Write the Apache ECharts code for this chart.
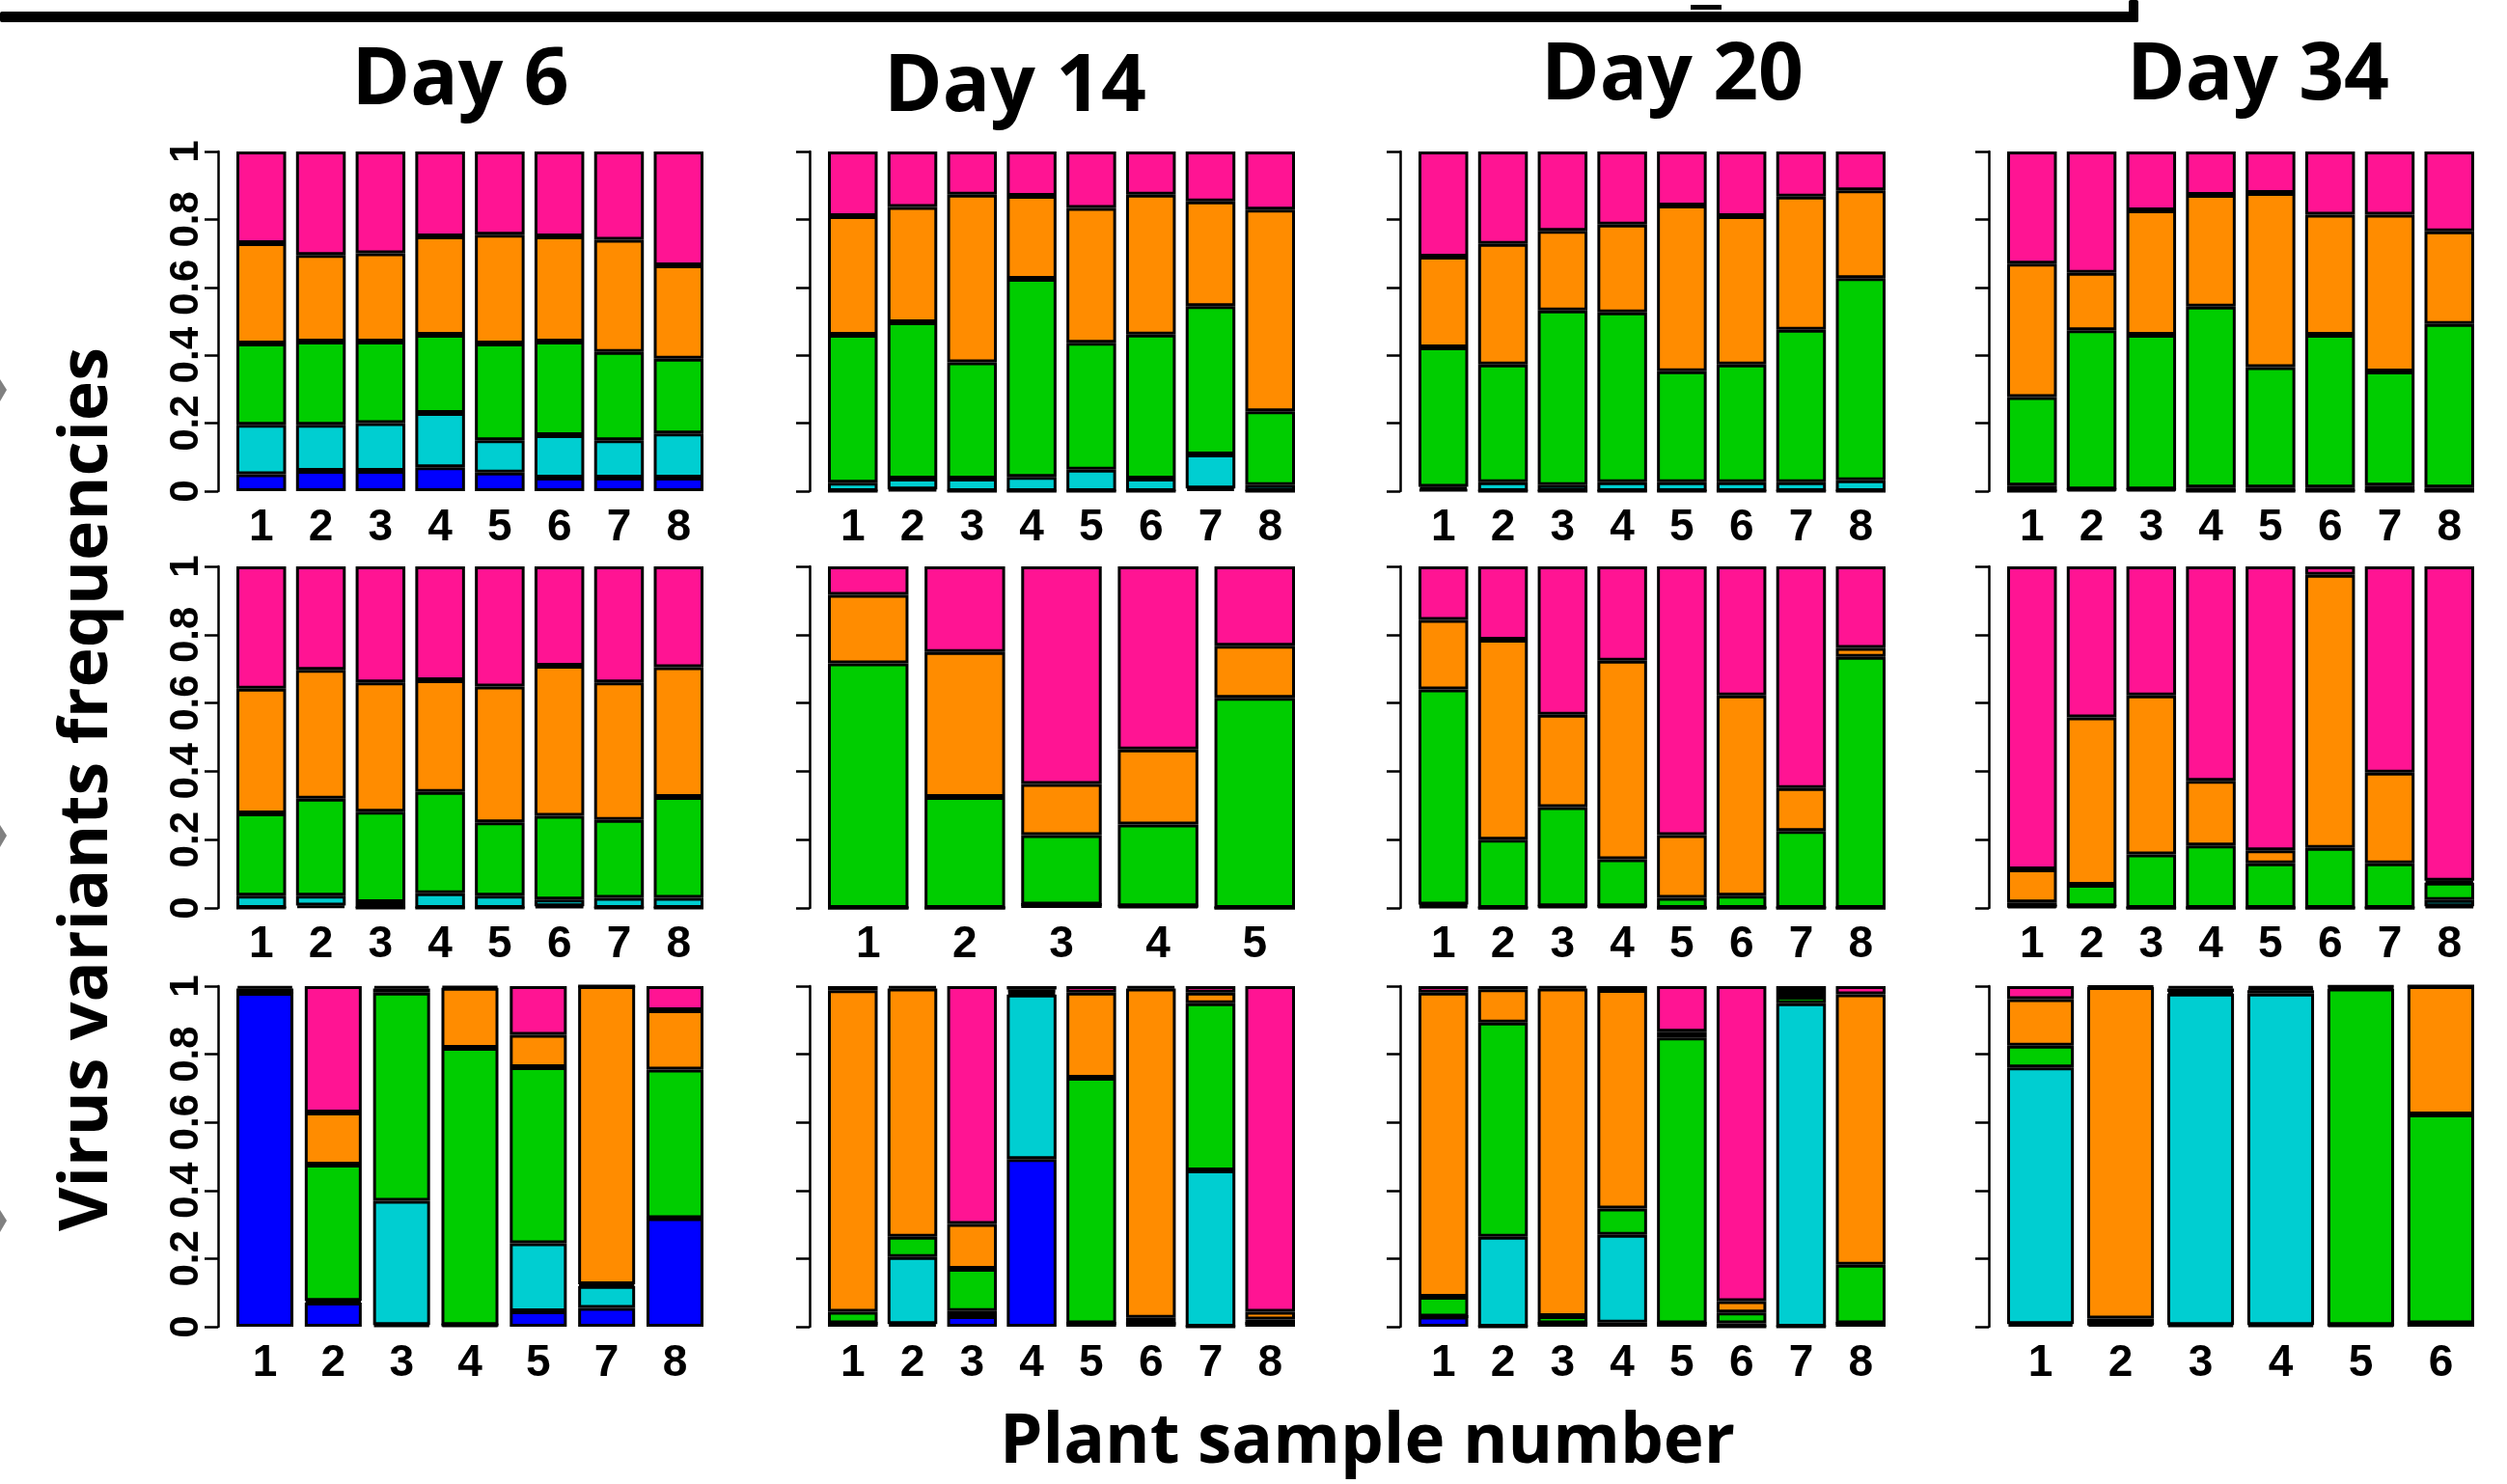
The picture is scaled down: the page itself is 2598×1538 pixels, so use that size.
<!DOCTYPE html>
<html><head><meta charset="utf-8">
<script src="https://cdn.jsdelivr.net/npm/echarts@6/dist/echarts.min.js"></script>
<style>html,body{margin:0;padding:0;background:#fff}#c{width:2598px;height:1538px}</style>
</head><body><div id="c"></div>
<script>
// ---------- categories / ticks ----------
const dayTitles = ['Day 6', 'Day 14', 'Day 20', 'Day 34'];
const variantNames = ['blue', 'cyan', 'green', 'orange', 'pink'];
const variantColors = ['#0000FF', '#00CED1', '#00CD00', '#FF8C00', '#FF1493'];
const yTicks = [0, 0.2, 0.4, 0.6, 0.8, 1];
const cats8 = ['1', '2', '3', '4', '5', '6', '7', '8'];
const cats5 = ['1', '2', '3', '4', '5'];
const cats7 = ['1', '2', '3', '4', '5', '7', '8'];
const cats6 = ['1', '2', '3', '4', '5', '6'];

// ---------- row 1 ----------
const r1d6_blue   = [0.05, 0.06, 0.06, 0.07, 0.055, 0.04, 0.04, 0.04];
const r1d6_cyan   = [0.145, 0.135, 0.14, 0.16, 0.095, 0.125, 0.11, 0.13];
const r1d6_green  = [0.24, 0.245, 0.24, 0.23, 0.285, 0.275, 0.26, 0.22];
const r1d6_orange = [0.295, 0.255, 0.26, 0.29, 0.32, 0.31, 0.33, 0.275];
const r1d6_pink   = [0.27, 0.305, 0.30, 0.25, 0.245, 0.25, 0.26, 0.335];

const r1d14_blue   = [0, 0.005, 0, 0, 0, 0, 0.008, 0];
const r1d14_cyan   = [0.025, 0.032, 0.037, 0.042, 0.063, 0.037, 0.1, 0.018];
const r1d14_green  = [0.435, 0.46, 0.342, 0.583, 0.374, 0.424, 0.437, 0.217];
const r1d14_orange = [0.35, 0.34, 0.494, 0.244, 0.397, 0.412, 0.308, 0.594];
const r1d14_pink   = [0.19, 0.163, 0.127, 0.131, 0.166, 0.127, 0.147, 0.171];

const r1d20_blue   = [0.005, 0, 0, 0, 0, 0, 0, 0];
const r1d20_cyan   = [0.008, 0.026, 0.018, 0.026, 0.026, 0.026, 0.026, 0.032];
const r1d20_green  = [0.41, 0.347, 0.514, 0.5, 0.327, 0.347, 0.449, 0.595];
const r1d20_orange = [0.267, 0.355, 0.234, 0.259, 0.488, 0.437, 0.392, 0.259];
const r1d20_pink   = [0.31, 0.272, 0.234, 0.215, 0.159, 0.19, 0.133, 0.114];

const r1d34_blue   = [0, 0.005, 0.005, 0, 0, 0, 0, 0];
const r1d34_cyan   = [0.016, 0, 0, 0.011, 0.011, 0.011, 0.016, 0.011];
const r1d34_green  = [0.261, 0.469, 0.455, 0.532, 0.354, 0.449, 0.336, 0.481];
const r1d34_orange = [0.393, 0.169, 0.367, 0.329, 0.513, 0.354, 0.462, 0.273];
const r1d34_pink   = [0.33, 0.357, 0.173, 0.128, 0.122, 0.186, 0.186, 0.235];

// ---------- row 2 ----------
const r2d6_blue   = [0, 0.007, 0, 0, 0, 0.005, 0, 0];
const r2d6_cyan   = [0.036, 0.029, 0.017, 0.043, 0.036, 0.02, 0.03, 0.03];
const r2d6_green  = [0.241, 0.284, 0.265, 0.297, 0.215, 0.245, 0.228, 0.295];
const r2d6_orange = [0.365, 0.377, 0.378, 0.327, 0.397, 0.439, 0.402, 0.38];
const r2d6_pink   = [0.358, 0.303, 0.34, 0.333, 0.352, 0.291, 0.34, 0.295];

const r2d14_blue   = [0, 0, 0.01, 0.005, 0];
const r2d14_cyan   = [0, 0, 0, 0, 0];
const r2d14_green  = [0.716, 0.325, 0.203, 0.239, 0.615];
const r2d14_orange = [0.201, 0.424, 0.15, 0.22, 0.153];
const r2d14_pink   = [0.083, 0.251, 0.637, 0.536, 0.232];

const r2d20_blue   = [0.005, 0, 0.005, 0.005, 0, 0, 0, 0];
const r2d20_cyan   = [0.005, 0, 0, 0, 0, 0, 0, 0];
const r2d20_green  = [0.63, 0.2, 0.29, 0.138, 0.03, 0.036, 0.225, 0.735];
const r2d20_orange = [0.203, 0.585, 0.271, 0.581, 0.183, 0.586, 0.126, 0.026];
const r2d20_pink   = [0.157, 0.215, 0.434, 0.276, 0.787, 0.378, 0.649, 0.239];

const r2d34_blue   = [0.005, 0.005, 0, 0, 0, 0, 0, 0.005];
const r2d34_cyan   = [0, 0, 0, 0, 0, 0, 0, 0.018];
const r2d34_green  = [0.011, 0.063, 0.157, 0.183, 0.131, 0.176, 0.131, 0.051];
const r2d34_orange = [0.097, 0.49, 0.465, 0.189, 0.038, 0.799, 0.265, 0.006];
const r2d34_pink   = [0.887, 0.442, 0.378, 0.628, 0.831, 0.025, 0.604, 0.92];

// ---------- row 3 ----------
const r3d6_blue   = [0.98, 0.071, 0.005, 0.005, 0.045, 0.055, 0.319];
const r3d6_cyan   = [0, 0.005, 0.365, 0, 0.2, 0.065, 0];
const r3d6_green  = [0, 0.4, 0.611, 0.814, 0.517, 0.005, 0.436];
const r3d6_orange = [0.013, 0.153, 0.012, 0.176, 0.095, 0.875, 0.174];
const r3d6_pink   = [0.007, 0.371, 0.007, 0.005, 0.143, 0, 0.071];

const r3d14_blue   = [0.01, 0.008, 0.031, 0.492, 0.01, 0.009, 0, 0.01];
const r3d14_cyan   = [0, 0.197, 0.015, 0.483, 0, 0, 0.459, 0];
const r3d14_green  = [0.034, 0.059, 0.124, 0.008, 0.721, 0.017, 0.491, 0.011];
const r3d14_orange = [0.944, 0.729, 0.132, 0.007, 0.25, 0.967, 0.031, 0.023];
const r3d14_pink   = [0.012, 0.007, 0.698, 0.01, 0.019, 0.007, 0.019, 0.956];

const r3d20_blue   = [0.03, 0, 0.01, 0.012, 0.01, 0, 0, 0.01];
const r3d20_cyan   = [0, 0.264, 0, 0.258, 0, 0.01, 0.95, 0];
const r3d20_green  = [0.058, 0.629, 0.021, 0.077, 0.839, 0.032, 0.019, 0.172];
const r3d20_orange = [0.893, 0.098, 0.962, 0.642, 0.017, 0.033, 0.017, 0.794];
const r3d20_pink   = [0.019, 0.009, 0.007, 0.011, 0.134, 0.925, 0.014, 0.024];

const r3d34_blue   = [0.008, 0.008, 0.005, 0.005, 0.005, 0.01];
const r3d34_cyan   = [0.753, 0, 0.973, 0.973, 0, 0];
const r3d34_green  = [0.064, 0.016, 0.005, 0.01, 0.988, 0.613];
const r3d34_orange = [0.137, 0.973, 0.01, 0.005, 0.005, 0.377];
const r3d34_pink   = [0.038, 0.003, 0.007, 0.007, 0.002, 0];

// ---------- panel table (built from the arrays above) ----------
const panels = [
  {row: 0, col: 0, cats: cats8, vals: [r1d6_blue, r1d6_cyan, r1d6_green, r1d6_orange, r1d6_pink]},
  {row: 0, col: 1, cats: cats8, vals: [r1d14_blue, r1d14_cyan, r1d14_green, r1d14_orange, r1d14_pink]},
  {row: 0, col: 2, cats: cats8, vals: [r1d20_blue, r1d20_cyan, r1d20_green, r1d20_orange, r1d20_pink]},
  {row: 0, col: 3, cats: cats8, vals: [r1d34_blue, r1d34_cyan, r1d34_green, r1d34_orange, r1d34_pink]},
  {row: 1, col: 0, cats: cats8, vals: [r2d6_blue, r2d6_cyan, r2d6_green, r2d6_orange, r2d6_pink]},
  {row: 1, col: 1, cats: cats5, vals: [r2d14_blue, r2d14_cyan, r2d14_green, r2d14_orange, r2d14_pink]},
  {row: 1, col: 2, cats: cats8, vals: [r2d20_blue, r2d20_cyan, r2d20_green, r2d20_orange, r2d20_pink]},
  {row: 1, col: 3, cats: cats8, vals: [r2d34_blue, r2d34_cyan, r2d34_green, r2d34_orange, r2d34_pink]},
  {row: 2, col: 0, cats: cats7, vals: [r3d6_blue, r3d6_cyan, r3d6_green, r3d6_orange, r3d6_pink]},
  {row: 2, col: 1, cats: cats8, vals: [r3d14_blue, r3d14_cyan, r3d14_green, r3d14_orange, r3d14_pink]},
  {row: 2, col: 2, cats: cats8, vals: [r3d20_blue, r3d20_cyan, r3d20_green, r3d20_orange, r3d20_pink]},
  {row: 2, col: 3, cats: cats6, vals: [r3d34_blue, r3d34_cyan, r3d34_green, r3d34_orange, r3d34_pink]}
];

// ---------- layout ----------
const colBarsLeft = [245, 858, 1470, 2080];
const barsSpan = 484;
const axisGap = 19;
const rowTop = [157, 587, 1022];
const rowH = [352, 354, 353];
const colTitleX = [477, 1052, 1733, 2340];
const colTitleY = [85, 92, 80, 80];
const tickFont = '"Liberation Sans", Arial, sans-serif';

const grids = [], xAxes = [], yAxes = [], series = [];
panels.forEach((p, i) => {
  const n = p.cats.length;
  const u = barsSpan / (1.2 * n - 0.2);
  const left = colBarsLeft[p.col] - 0.1 * u;
  grids.push({left: left, top: rowTop[p.row], width: 1.2 * n * u, height: rowH[p.row], containLabel: false});
  xAxes.push({
    type: 'category', gridIndex: i, data: p.cats,
    axisLine: {show: false}, axisTick: {show: false},
    axisLabel: {show: true, interval: 0, margin: 15, color: '#000', fontFamily: tickFont, fontWeight: 'bold', fontSize: 46}
  });
  yAxes.push({
    type: 'value', gridIndex: i, min: 0, max: 1, interval: 0.2,
    offset: axisGap - 0.1 * u,
    splitLine: {show: false},
    axisLine: {show: true, lineStyle: {color: '#000', width: 2.5}},
    axisTick: {show: true, inside: false, length: 14, lineStyle: {color: '#000', width: 2.5}},
    axisLabel: {show: p.col === 0, rotate: 90, margin: 12, color: '#000', fontFamily: tickFont, fontWeight: 'bold', fontSize: 42,
      formatter: v => String(yTicks.find(t => Math.abs(t - v) < 1e-9))}
  });
  p.vals.forEach((arr, k) => {
    series.push({
      type: 'bar', name: variantNames[k], xAxisIndex: i, yAxisIndex: i, stack: 'panel' + i,
      data: arr, barCategoryGap: '16.667%',
      itemStyle: {color: variantColors[k], borderColor: '#000', borderWidth: 3},
      emphasis: {disabled: true}
    });
  });
});

const graphic = [
  {type: 'rect', shape: {x: 0, y: 12, width: 2216, height: 11, r: 2}, style: {fill: '#000'}},
  {type: 'rect', shape: {x: 2206, y: 0, width: 10, height: 23, r: 2}, style: {fill: '#000'}},
  {type: 'rect', shape: {x: 1752, y: 5, width: 32, height: 5}, style: {fill: '#000'}},
  {type: 'polygon', shape: {points: [[0, 393], [7, 404], [0, 416]]}, style: {fill: '#808080'}},
  {type: 'polygon', shape: {points: [[0, 855], [7, 866], [0, 878]]}, style: {fill: '#808080'}},
  {type: 'polygon', shape: {points: [[0, 1254], [7, 1265], [0, 1277]]}, style: {fill: '#808080'}},
  {type: 'text', x: 91, y: 818, rotation: Math.PI / 2,
    style: {text: 'Virus variants frequencies', font: 'bold 70px "Open Sans", sans-serif', fill: '#000', textAlign: 'center', textVerticalAlign: 'middle'}},
  {type: 'text', x: 1417, y: 1496,
    style: {text: 'Plant sample number', font: 'bold 71px "Open Sans", sans-serif', fill: '#000', textAlign: 'center', textVerticalAlign: 'middle'}}
];
dayTitles.forEach((t, c) => {
  graphic.push({type: 'text', x: colTitleX[c], y: colTitleY[c],
    style: {text: t, font: 'bold 82px "Open Sans", sans-serif', fill: '#000', textAlign: 'center', textVerticalAlign: 'middle'}});
});

const chart = echarts.init(document.getElementById('c'), null, {renderer: 'canvas'});
chart.setOption({
  animation: false,
  backgroundColor: '#fff',
  grid: grids, xAxis: xAxes, yAxis: yAxes, series: series,
  graphic: graphic
});
</script></body></html>
